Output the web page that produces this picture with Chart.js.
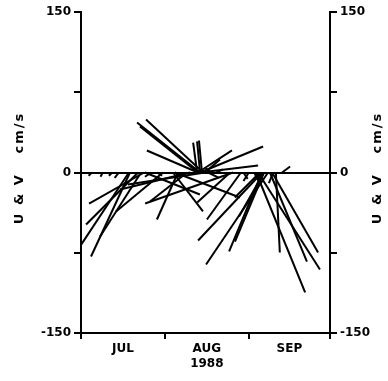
<!DOCTYPE html>
<html>
<head>
<meta charset="utf-8">
<script src="https://cdn.jsdelivr.net/npm/chart.js@4/dist/chart.umd.min.js"></script>
<style>
  body { margin: 0; background: #fff; }
  #wrap { width: 388px; height: 381px; }
</style>
</head>
<body>
<div id="wrap"><canvas id="stickChart" width="388" height="381"></canvas></div>
<script>
// days since 1 Jul 1988 where each stick starts, and the current components (cm/s)
const stickDay = [4.0, 8.0, 11.5, 14.0, 17.7, 18.1, 21.1, 22.2, 23.3, 23.6, 26.0, 28.0, 30.3, 35.8,
  34.0, 39.2, 40.3, 42.9, 43.2, 43.2, 43.2, 44.0, 44.0, 44.0, 44.0, 44.7, 45.1, 45.8, 45.8, 47.0, 48.0, 50.0,
  56.2, 59.1, 55.1, 60.0, 62.0, 64.0, 64.7, 65.4, 66.1, 66.9, 66.9, 67.6, 67.6, 69.1, 69.8, 70.6, 71.0, 72.0, 74.3,
  34.7];
const stickU = [-3, -2, -3, -4, -47.7, -36.4, -48.6, -38.3, -51.4, 51.4, -6, 5, -43.9, -19.6,
  28.0, -34.6, -65.4, -3.7, -47.7, -54.2, 31.8, -58.9, -2.8, 58.9, 54.2, -2.8, -53.3, -72.0, 14.0, 10, -5, 6,
  -82.2, -31.8, -30.8, 4, -5, 6, 45.8, 57.9, -23.4, -59.8, -30.8, -23.4, -27.1, -57.9, 34.6, 43.0, -4, 3.7, 7.5,
  60.7];
const stickV = [-3, -4, -3, -5, -72.0, -78.5, -48.6, -59.8, -29.0, -20.6, -4, -3, -36.4, -43.9,
  -36.4, -27.1, -15.9, 28.0, 20.6, 43.0, 20.6, 46.7, 29.0, 24.3, 6.5, 29.9, 49.5, -11.2, 12.1, -5, 4, 3,
  -29.0, -43.9, -28.0, -6, -8, -12, -112.1, -90.7, -23.4, -63.6, -73.8, -41.1, -64.5, -86.0, -83.2, -74.8, -10, -74.8, 5.6,
  -23.4];

const monthTicks = [0, 31, 62, 92];
const monthLabels = ['JUL', ['AUG', '1988'], 'SEP'];
const yTicks = [-150, -75, 0, 75, 150];
const yLabelled = [-150, 0, 150];

// days per cm/s so that u is drawn at the same scale as v
const K = 0.3953;

const datasets = stickDay.map((d, i) => ({
    data: [{ x: d, y: 0 }, { x: d + stickU[i] * K, y: stickV[i] }],
    borderColor: "#000",
    borderWidth: 2,
    pointRadius: 0,
    showLine: true,
    yAxisID: "y"
}));

// month ticks at the boundaries, names at the middle of each month
const xTickList = [];
monthTicks.forEach((t, i) => {
    xTickList.push({ value: t, boundary: true });
    if (i < monthLabels.length) {
        xTickList.push({ value: (t + monthTicks[i + 1]) / 2, label: monthLabels[i] });
    }
});

const tickFont = { family: "DejaVu Sans", size: 12, weight: "bold" };

function yAxis(position, width) {
    return {
        type: "linear",
        position: position,
        min: -150,
        max: 150,
        afterBuildTicks: axis => { axis.ticks = yTicks.map(v => ({ value: v })); },
        afterFit: axis => { axis.width = width; },
        ticks: {
            color: "#000",
            font: tickFont,
            padding: 3,
            callback: v => yLabelled.includes(v) ? String(v) : ""
        },
        grid: {
            drawOnChartArea: position === "left",
            color: ctx => (ctx.tick && ctx.tick.value === 0) ? "#000" : "rgba(0,0,0,0)",
            lineWidth: 2,
            tickColor: "#000",
            tickLength: 7
        },
        border: { display: true, color: "#000", width: 2 }
    };
}

const axisTitles = {
    id: "axisTitles",
    afterDraw(chart) {
        const ctx = chart.ctx;
        ctx.save();
        ctx.fillStyle = "#000";
        ctx.font = "bold 13px 'DejaVu Sans'";
        ctx.letterSpacing = "2px";
        ctx.textAlign = "center";
        ctx.textBaseline = "middle";
        [20, 378].forEach(x => {
            ctx.save();
            ctx.translate(x, 168);
            ctx.rotate(-Math.PI / 2);
            ctx.fillText("U & V   cm/s", 0, 0);
            ctx.restore();
        });
        ctx.restore();
    }
};

new Chart(document.getElementById("stickChart").getContext("2d"), {
    type: "scatter",
    data: { datasets: datasets },
    options: {
        responsive: false,
        animation: false,
        layout: { padding: { top: 12, left: 0, right: 0, bottom: 0 } },
        plugins: { legend: { display: false }, tooltip: { enabled: false } },
        scales: {
            x: {
                type: "linear",
                position: "bottom",
                min: 0,
                max: 92,
                afterBuildTicks: axis => { axis.ticks = xTickList.map(t => ({ value: t.value })); },
                afterFit: axis => { axis.height = 48; },
                ticks: {
                    autoSkip: false,
                    maxRotation: 0,
                    color: "#000",
                    font: Object.assign({ lineHeight: 1.25 }, tickFont),
                    padding: 2,
                    callback: (v, i) => xTickList[i].label || ""
                },
                grid: {
                    drawOnChartArea: false,
                    lineWidth: 2,
                    tickLength: 6,
                    tickColor: ctx => (ctx.index !== undefined && xTickList[ctx.index] && xTickList[ctx.index].boundary) ? "#000" : "rgba(0,0,0,0)"
                },
                border: { display: true, color: "#000", width: 2 }
            },
            y: yAxis("left", 81),
            y2: yAxis("right", 58)
        }
    },
    plugins: [axisTitles]
});
</script>
</body>
</html>
